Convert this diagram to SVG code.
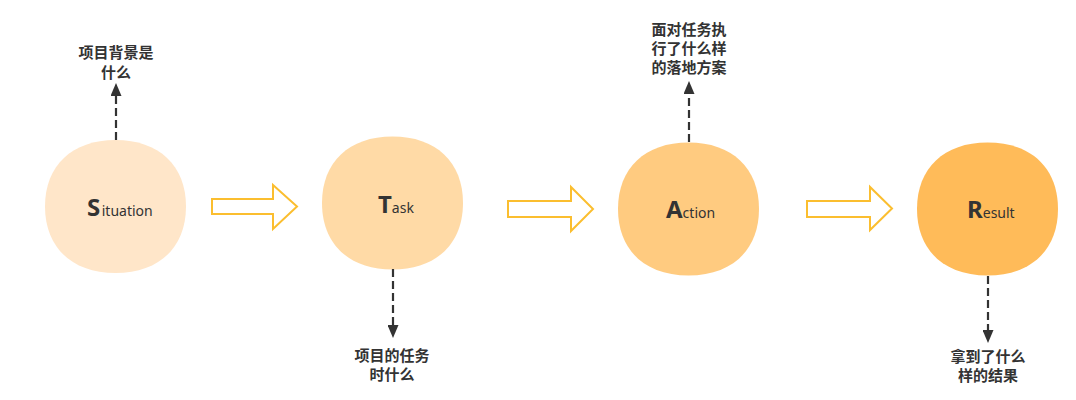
<svg xmlns="http://www.w3.org/2000/svg" width="1076" height="400" viewBox="0 0 1076 400">
<style>
.big{font-family:"Noto Sans","Open Sans",sans-serif;font-weight:bold;font-size:24px;fill:#333}
.small{font-family:"Noto Sans","Open Sans",sans-serif;font-size:14px;fill:#333}
.lbl{font-family:"Noto Sans CJK SC","Noto Sans",sans-serif;font-weight:bold;font-size:15px;fill:#333;text-anchor:middle}
.dash{stroke:#333;stroke-width:2.2;stroke-dasharray:8 4;fill:none}
.blk{fill:#fff;stroke:#FBBE2F;stroke-width:2;stroke-linejoin:miter}
</style>
<defs>
<path id="blob" d="M-70.5,0 C-70.5,-41 -43.5,-66.5 0,-66.5 C43.5,-66.5 70.5,-41 70.5,0 C70.5,41 43.5,66.5 0,66.5 C-43.5,66.5 -70.5,41 -70.5,0Z"/>
<marker id="ah" markerUnits="userSpaceOnUse" markerWidth="13" markerHeight="11" refX="0" refY="5.5" orient="auto">
<path d="M0,0 L13,5.5 L0,11 Z" fill="#333"/>
</marker>
</defs>
<rect width="1076" height="400" fill="#fff"/>
<g id="situation">
<use href="#blob" transform="translate(115.5,206.5)" fill="#FFE6C9"/>
<text x="87" y="216"><tspan class="big">S</tspan><tspan class="small" dx="1.5">ituation</tspan></text>
</g>
<g id="task">
<use href="#blob" transform="translate(392.5,203)" fill="#FFDAA6"/>
<text x="378" y="213"><tspan class="big">T</tspan><tspan class="small">ask</tspan></text>
</g>
<g id="action">
<use href="#blob" transform="translate(688.5,209)" fill="#FFCB80"/>
<text x="666" y="218"><tspan class="big">A</tspan><tspan class="small">ction</tspan></text>
</g>
<g id="result">
<use href="#blob" transform="translate(987.5,209)" fill="#FFBB59"/>
<text x="967" y="218"><tspan class="big">R</tspan><tspan class="small">esult</tspan></text>
</g>
<g id="label-s">
<text class="lbl" x="116" y="58">项目背景是</text>
<text class="lbl" x="116" y="78">什么</text>
</g>
<g id="label-t">
<text class="lbl" x="392" y="361">项目的任务</text>
<text class="lbl" x="392" y="380">时什么</text>
</g>
<g id="label-a">
<text class="lbl" x="689" y="35">面对任务执</text>
<text class="lbl" x="689" y="54">行了什么样</text>
<text class="lbl" x="689" y="73">的落地方案</text>
</g>
<g id="label-r">
<text class="lbl" x="988" y="362">拿到了什么</text>
<text class="lbl" x="988" y="381">样的结果</text>
</g>
<g id="connectors">
<path class="blk" d="M212,199 H273 V185 L297,206.5 L273,229 V214 H212 Z"/>
<path class="blk" d="M508,201 H571 V187 L593,209 L571,231 V217 H508 Z"/>
<path class="blk" d="M807,201 H870 V187 L892,208.5 L870,230 V217 H807 Z"/>
<line class="dash" x1="116" y1="140" x2="116" y2="96" marker-end="url(#ah)"/>
<line class="dash" x1="393" y1="269" x2="393" y2="325" marker-end="url(#ah)"/>
<line class="dash" x1="689" y1="142" x2="689" y2="94" marker-end="url(#ah)"/>
<line class="dash" x1="988" y1="276" x2="988" y2="330" marker-end="url(#ah)"/>
</g>
</svg>
